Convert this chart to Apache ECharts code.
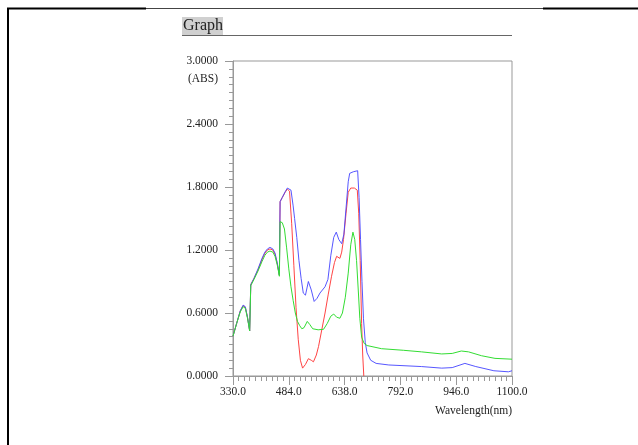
<!DOCTYPE html>
<html>
<head>
<meta charset="utf-8">
<script src="https://cdn.jsdelivr.net/npm/echarts@6/dist/echarts.min.js"></script>
<style>
html,body{margin:0;padding:0;background:#fff;}
#chart{width:638px;height:445px;}
</style>
</head>
<body>
<div id="chart"></div>
<script>
// Wavelength range and tick labels
const xMin = 330, xMax = 1100, xStep = 154;
const yMin = 0, yMax = 3, yStep = 0.6;

// Blue series
const blueX = [330,340,350,358,364,370,376,379,388,399,410,418,425,432,440,446,452,458,460,466,474,480,484,490,496,500,506,512,518,524,530,538,546,554,562,570,584,592,600,608,615,622,630,636,642,648,652,662,674,678,682,686,690,695,700,710,725,760,850,906,935,970,1000,1050,1090,1100];
const blueY = [0.38,0.50,0.62,0.675,0.66,0.56,0.43,0.87,0.93,1.02,1.12,1.18,1.21,1.225,1.21,1.17,1.08,0.96,1.66,1.70,1.755,1.79,1.80,1.77,1.62,1.50,1.32,1.10,0.93,0.79,0.77,0.90,0.82,0.71,0.74,0.79,0.85,0.92,1.15,1.32,1.37,1.30,1.26,1.35,1.60,1.85,1.93,1.945,1.955,1.70,1.30,0.90,0.55,0.32,0.22,0.15,0.12,0.105,0.09,0.075,0.08,0.12,0.09,0.05,0.04,0.05];

// Red series
const redX = [330,340,350,358,364,370,376,379,388,399,410,418,425,432,440,446,452,458,460,466,474,480,484,486,492,498,504,510,516,522,530,538,546,552,560,566,575,584,593,602,610,616,625,630,635,642,648,655,665,673,677,681,685,688,691];
const redY = [0.38,0.50,0.62,0.67,0.655,0.56,0.43,0.87,0.93,1.01,1.11,1.17,1.20,1.21,1.20,1.16,1.07,0.96,1.66,1.70,1.75,1.78,1.79,1.76,1.45,1.05,0.65,0.35,0.15,0.075,0.11,0.165,0.15,0.135,0.20,0.28,0.44,0.60,0.78,0.95,1.08,1.14,1.12,1.18,1.30,1.55,1.75,1.79,1.79,1.77,1.55,1.10,0.50,0.20,0.0];

// Green series
const greenX = [330,340,350,358,364,370,376,379,388,399,410,418,425,432,440,446,452,458,460,466,472,478,484,490,496,502,508,514,520,526,535,542,550,565,580,590,600,608,616,625,632,640,648,655,661,666,671,676,680,685,692,700,740,800,850,906,935,960,980,1016,1053,1100];
const greenY = [0.38,0.50,0.61,0.66,0.645,0.55,0.43,0.86,0.92,1.00,1.09,1.15,1.18,1.19,1.18,1.14,1.06,0.95,1.47,1.46,1.40,1.22,1.02,0.85,0.72,0.60,0.52,0.48,0.45,0.46,0.52,0.49,0.45,0.44,0.445,0.50,0.57,0.59,0.56,0.55,0.60,0.75,0.98,1.25,1.37,1.30,1.10,0.80,0.55,0.37,0.31,0.29,0.26,0.245,0.23,0.21,0.215,0.238,0.23,0.193,0.168,0.16];

const serif = "'Liberation Serif', 'DejaVu Serif', serif";
function pairs(xs, ys){ return xs.map((x,i)=>[x - xMin, ys[i]]); }

const chart = echarts.init(document.getElementById('chart'), null, {renderer:'canvas'});
chart.setOption({
  animation:false,
  backgroundColor:'#fff',
  grid:{left:233, right:126, top:61, bottom:69, show:true, borderColor:'#999', borderWidth:1},
  xAxis:{
    type:'value', min:0, max:xMax - xMin, interval:xStep,
    axisLine:{show:true, lineStyle:{color:'#999', width:1}},
    axisTick:{show:true, length:9, lineStyle:{color:'#999'}},
    minorTick:{show:true, splitNumber:10, length:5, lineStyle:{color:'#999'}},
    splitLine:{show:false},
    axisLabel:{margin:10, color:'#222', fontFamily:serif, fontSize:11.5,
      formatter:v=>(v + xMin).toFixed(1)}
  },
  yAxis:{
    type:'value', min:yMin, max:yMax, interval:yStep,
    axisLine:{show:true, lineStyle:{color:'#999', width:1}},
    axisTick:{show:true, length:8, lineStyle:{color:'#999'}},
    minorTick:{show:true, splitNumber:8, length:4, lineStyle:{color:'#999'}},
    splitLine:{show:false},
    axisLabel:{margin:15, color:'#222', fontFamily:serif, fontSize:11.5,
      formatter:v=>v.toFixed(4)}
  },
  series:[
    {type:'line', data:pairs(redX, redY), showSymbol:false, symbol:'none',
      lineStyle:{color:'#ff4444', width:1}, z:2},
    {type:'line', data:pairs(blueX, blueY), showSymbol:false, symbol:'none',
      lineStyle:{color:'#4444ff', width:1, opacity:0.9}, z:3},
    {type:'line', data:pairs(greenX, greenY), showSymbol:false, symbol:'none',
      lineStyle:{color:'#33dd33', width:1}, z:4}
  ],
  graphic:[
    {type:'line', shape:{x1:8, y1:8.5, x2:638, y2:8.5}, style:{stroke:'#444', lineWidth:1}},
    {type:'line', shape:{x1:7, y1:8.5, x2:146, y2:8.5}, style:{stroke:'#000', lineWidth:2}},
    {type:'line', shape:{x1:543, y1:8.5, x2:638, y2:8.5}, style:{stroke:'#000', lineWidth:2}},
    {type:'line', shape:{x1:8, y1:8, x2:8, y2:445}, style:{stroke:'#000', lineWidth:2}},
    {type:'rect', shape:{x:182, y:17, width:41, height:18}, style:{fill:'#d0d0d0'}},
    {type:'text', x:183, y:26, style:{text:'Graph', font:"16px 'Liberation Serif', serif", fill:'#222', textVerticalAlign:'middle'}},
    {type:'line', shape:{x1:182, y1:35.5, x2:512, y2:35.5}, style:{stroke:'#666', lineWidth:1}},
    {type:'text', x:218, y:79, style:{text:'(ABS)', font:"11.5px 'Liberation Serif', serif", fill:'#222', textAlign:'right', textVerticalAlign:'middle'}},
    {type:'text', x:512, y:411, style:{text:'Wavelength(nm)', font:"11.5px 'Liberation Serif', serif", fill:'#222', textAlign:'right', textVerticalAlign:'middle'}}
  ]
});
</script>
</body>
</html>
